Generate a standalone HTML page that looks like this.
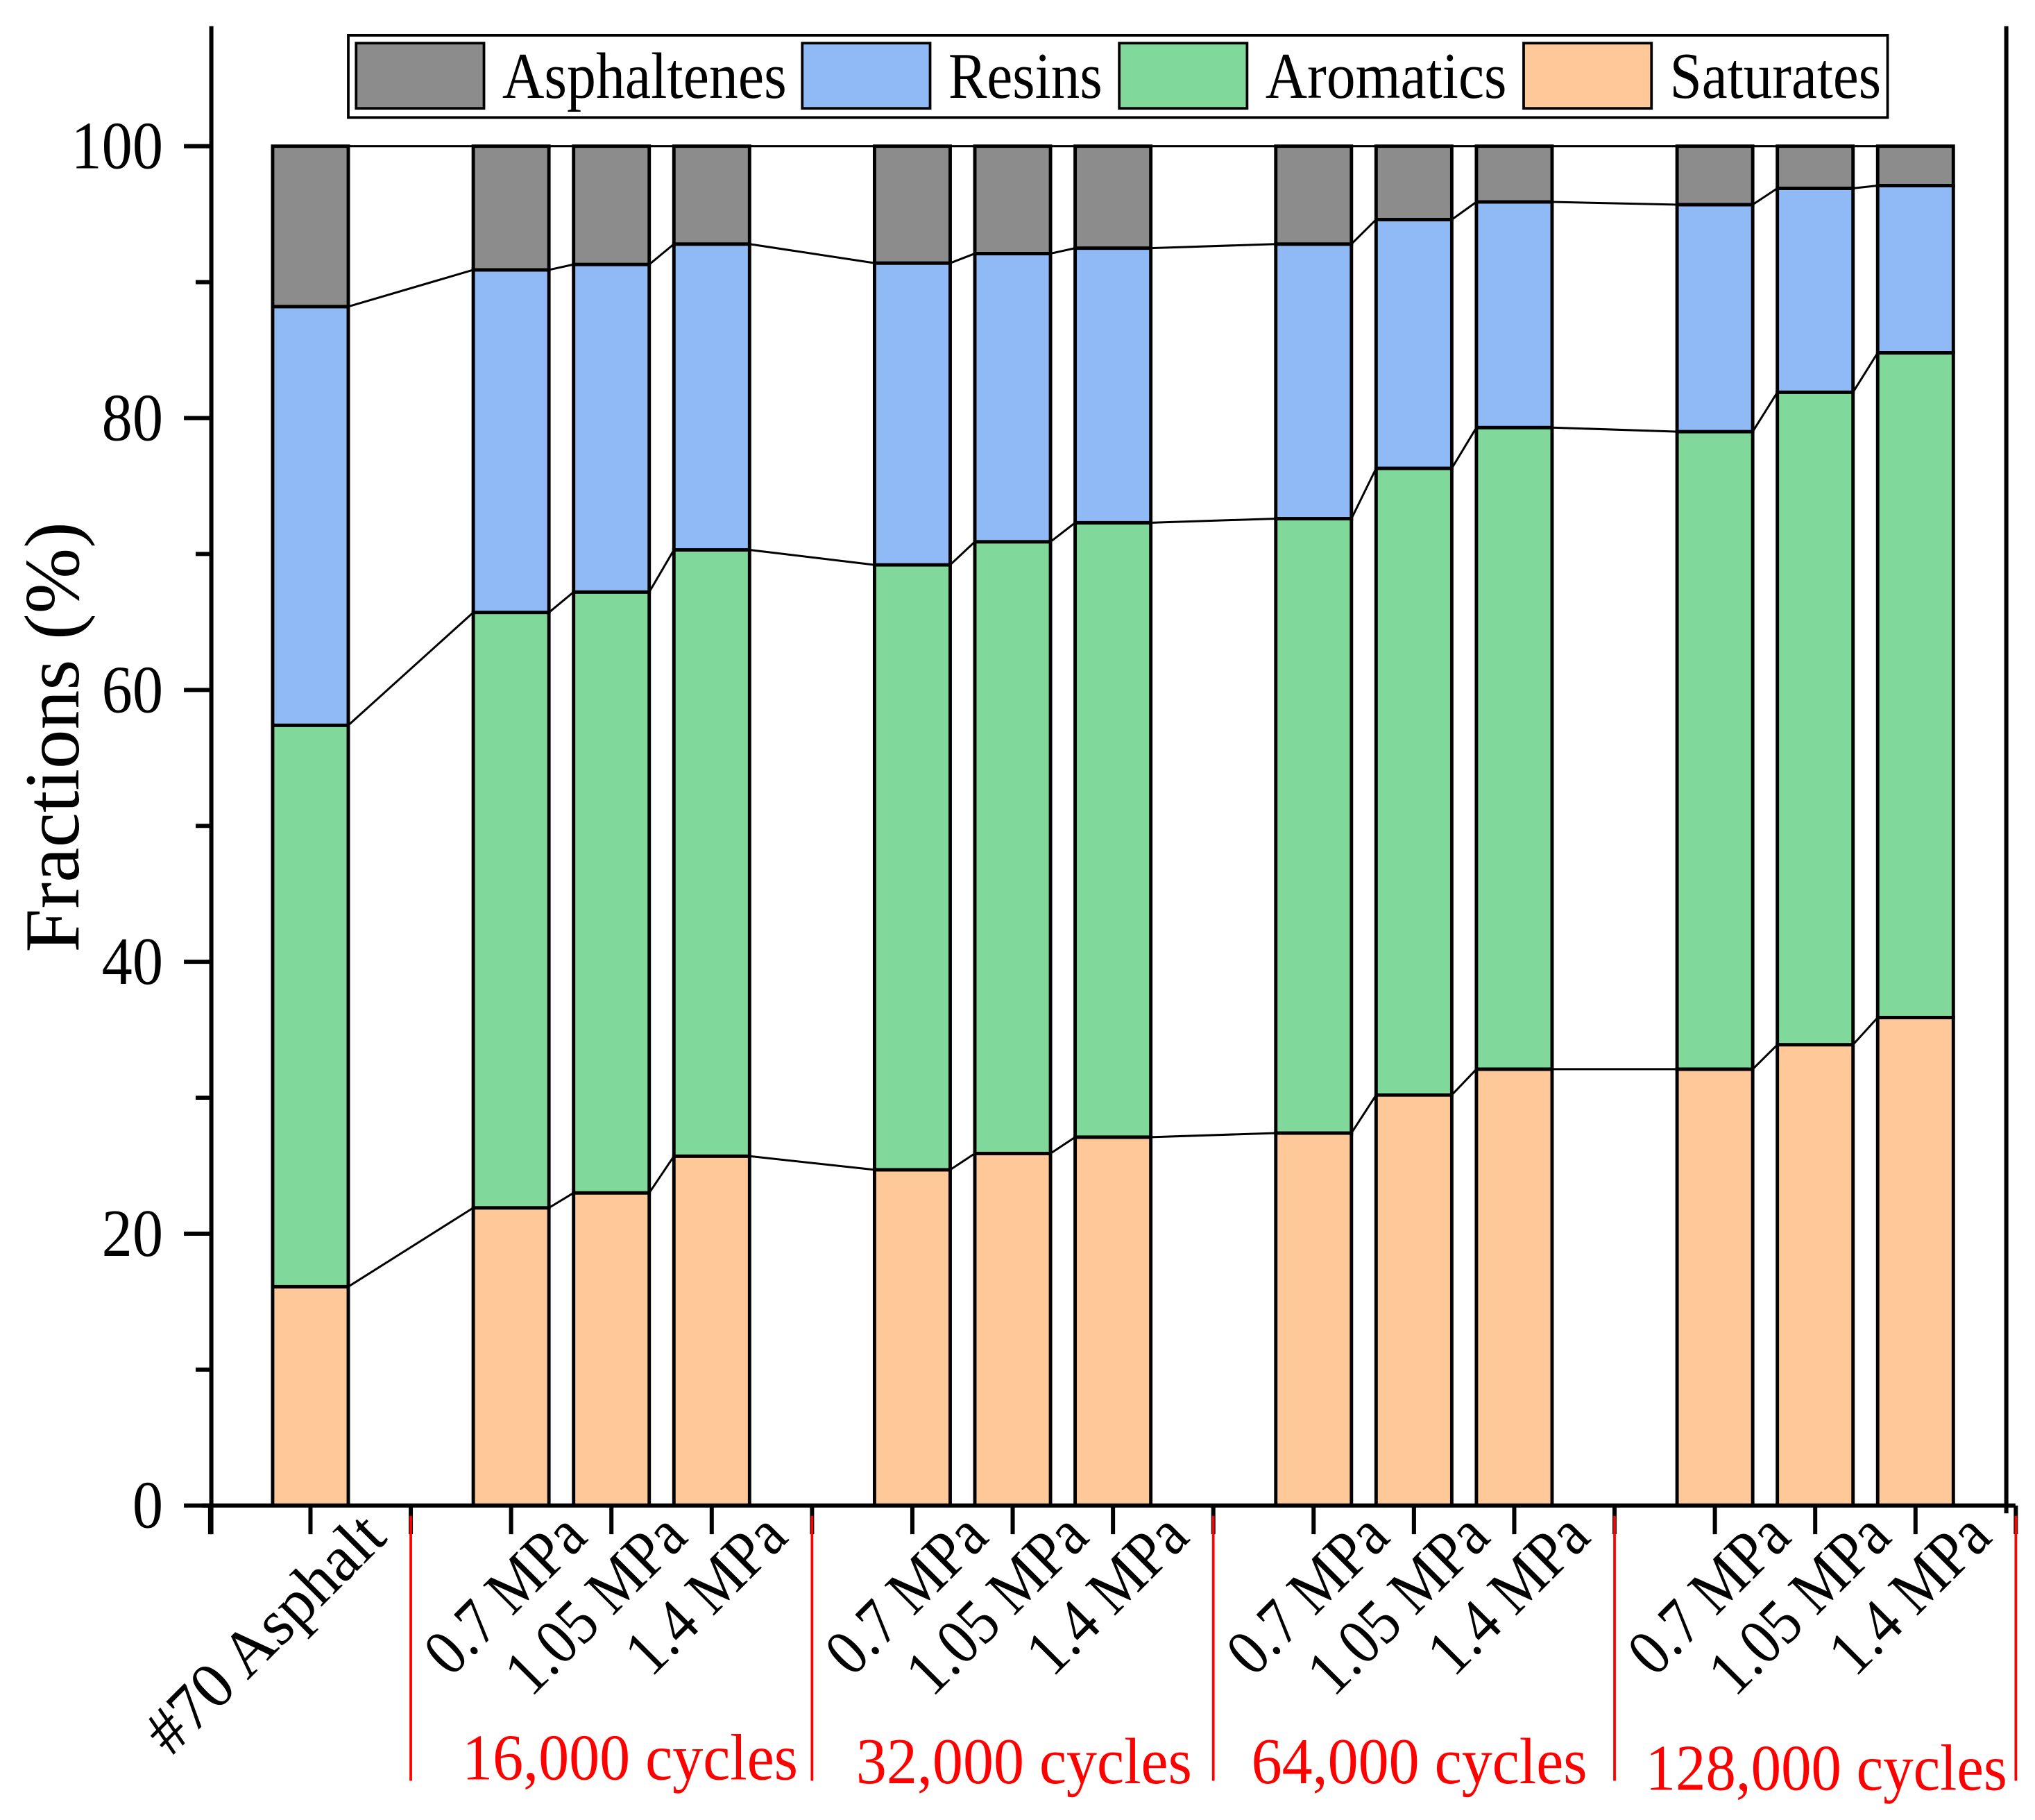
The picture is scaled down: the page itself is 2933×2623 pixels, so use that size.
<!DOCTYPE html>
<html><head><meta charset="utf-8"><style>
html,body{margin:0;padding:0;background:#fff}
svg{display:block}
text{font-family:"Liberation Serif",serif}
</style></head><body>
<svg id="chart" width="2933" height="2623" viewBox="0 0 1560 1395" xmlns="http://www.w3.org/2000/svg">
<g id="marks"></g>
</svg>
<script>
const categories = ["#70 Asphalt","0.7 MPa","1.05 MPa","1.4 MPa","0.7 MPa","1.05 MPa","1.4 MPa","0.7 MPa","1.05 MPa","1.4 MPa","0.7 MPa","1.05 MPa","1.4 MPa"];
const slots = [0,2,3,4,6,7,8,10,11,12,14,15,16];
const saturates = [16.1,21.9,23.0,25.7,24.7,25.9,27.1,27.4,30.2,32.1,32.1,33.9,35.9];
const aromatics = [41.3,43.8,44.2,44.6,44.5,45.0,45.2,45.2,46.1,47.2,46.9,48.0,48.9];
const resins = [30.8,25.2,24.1,22.5,22.2,21.2,20.2,20.2,18.3,16.6,16.7,15.0,12.3];
const asphaltenes = [11.8,9.1,8.7,7.2,8.6,7.9,7.5,7.2,5.4,4.1,4.3,3.1,2.9];
const yTicks = [0,20,40,60,80,100];
const groupLabels = ["16,000 cycles","32,000 cycles","64,000 cycles","128,000 cycles"];

const NS="http://www.w3.org/2000/svg";
const g=document.getElementById('marks');
const y0=1154, y100=112;
const yS=v=>y0-(y0-y100)*v/100;
const xS=s=>238+76.9*s;
const BW=58;
function mk(tag,attrs,parent){const e=document.createElementNS(NS,tag);for(const k in attrs)e.setAttribute(k,attrs[k]);(parent||g).appendChild(e);return e;}

const series=[saturates,aromatics,resins,asphaltenes];
const colors=["#fec898","#80d89a","#8fbaf5","#8c8c8c"];
const names=["saturates","aromatics","resins","asphaltenes"];
const cum=categories.map((c,i)=>{let a=[0];series.forEach(s=>a.push(a[a.length-1]+s[i]));return a;});

for(let k=1;k<=4;k++){
  for(let i=0;i<categories.length-1;i++){
    const l=mk('line',{x1:xS(slots[i])+BW/2,y1:yS(cum[i][k]),x2:xS(slots[i+1])-BW/2,y2:yS(cum[i+1][k]),stroke:'#000','stroke-width':1.6});
    
    
  }
}
categories.forEach((c,i)=>{
  series.forEach((s,k)=>{
    const r=mk('rect',{x:xS(slots[i])-BW/2,y:yS(cum[i][k+1]),width:BW,height:yS(cum[i][k])-yS(cum[i][k+1]),fill:colors[k],stroke:'#000','stroke-width':2.6});
    
    
  });
});
const ax=mk('path',{d:'M162 20 V1176 M1538 20 V1160 M155 1154 H1545',stroke:'#000','stroke-width':3.2,fill:'none'});


for(let v=0;v<=100;v+=10){
  const t=mk('line',{x1:v%20===0?141:150,x2:162,y1:yS(v),y2:yS(v),stroke:'#000','stroke-width':3.2});
  
  
}
yTicks.forEach(v=>{
  const s=String(v);
  const t=mk('text',{x:125,y:yS(v)+17,'text-anchor':'end','font-size':52,textLength:s.length*23.5,lengthAdjust:'spacingAndGlyphs'});
  t.textContent=s;
  
  
});
for(let s=-1;s<=17;s++){
  const t=mk('line',{x1:xS(s),x2:xS(s),y1:1154,y2:1176,stroke:'#000','stroke-width':3.2});
  
  
}
categories.forEach((c,i)=>{
  const x=xS(slots[i])+60,y=1180;
  const t=mk('text',{x:x,y:y,'text-anchor':'end','font-size':50,textLength:c.length*21.5,lengthAdjust:'spacingAndGlyphs',transform:`rotate(-45 ${x} ${y})`});
  t.textContent=c;
  
  
});
[1,5,9,13,17].forEach(s=>{
  const l=mk('line',{x1:xS(s),x2:xS(s),y1:1162,y2:1365,stroke:'#f00','stroke-width':2});
  
  
});
const gx=[483,785,1088,1400], gy=[1364,1367,1367,1372];
groupLabels.forEach((lab,j)=>{
  const t=mk('text',{x:gx[j],y:gy[j],'text-anchor':'middle','font-size':50,fill:'#f00',textLength:lab.length*19.8,lengthAdjust:'spacingAndGlyphs'});
  t.textContent=lab;
  
  
});
const yt=mk('text',{x:60,y:565,'text-anchor':'middle','font-size':60,textLength:330,lengthAdjust:'spacingAndGlyphs',transform:'rotate(-90 60 565)'});
yt.textContent='Fractions (%)';


const lb=mk('rect',{x:267,y:27,width:1180,height:63,fill:'#fff',stroke:'#000','stroke-width':2});


const leg=[[273,385,3,'Asphaltenes',218],[615,727,2,'Resins',118],[858,970,1,'Aromatics',185],[1168,1280,0,'Saturates',162]];
leg.forEach(([sx,tx,k,lab,w])=>{
  const r=mk('rect',{x:sx,y:33,width:98,height:50,fill:colors[k],stroke:'#000','stroke-width':2});
  
  
  const t=mk('text',{x:tx,y:75,'font-size':50,textLength:w,lengthAdjust:'spacingAndGlyphs'});
  t.textContent=lab;
  
  
});
</script>
</body></html>
